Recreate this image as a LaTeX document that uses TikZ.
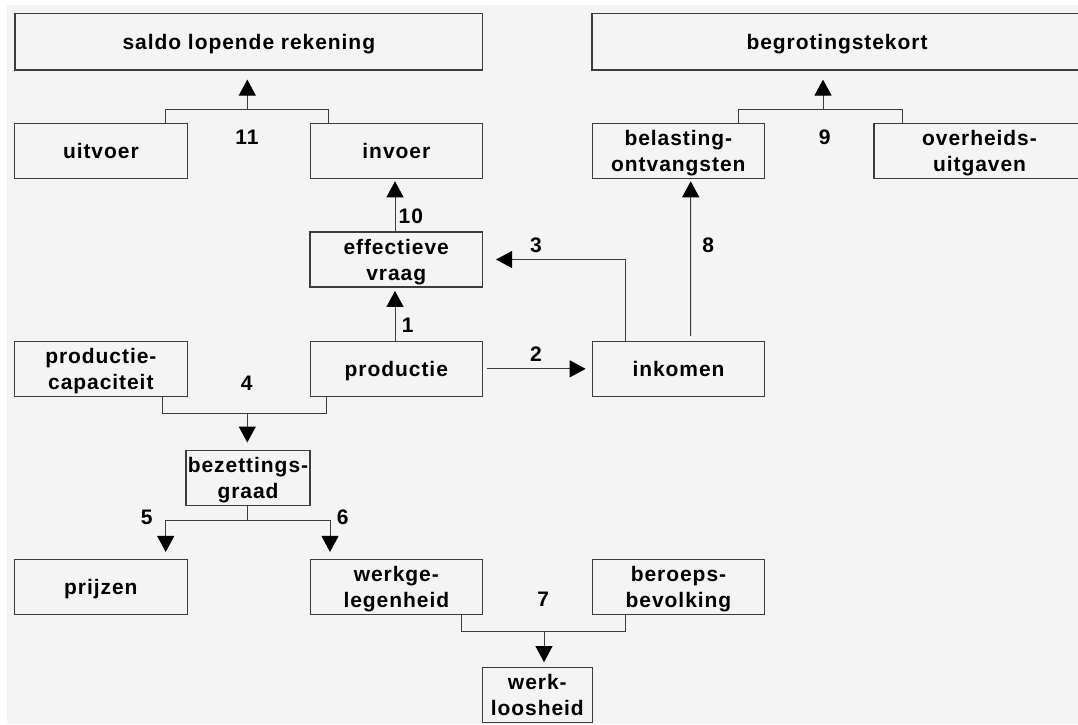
\documentclass[tikz,border=0pt]{standalone}
\usepackage{fontspec}
\usetikzlibrary{arrows.meta}
\newfontfamily\boxfamily{Liberation Sans}[LetterSpace=4.5]
\newcommand\boxfont{\boxfamily\bfseries\fontsize{21}{26}\selectfont}
\definecolor{bg}{HTML}{F4F4F4}
\definecolor{ln}{HTML}{3C3C3C}
\tikzset{
  box/.style={draw=ln, line width=1.2pt, fill=bg, minimum width=172.5pt, minimum height=55pt,
    inner sep=0pt, align=center, font=\boxfont, text depth=0pt},
  lbl/.style={font=\boxfont, inner sep=0pt},
  conn/.style={draw=ln, line width=1pt},
  arr/.style={conn, -{Triangle[width=17pt,length=16pt,color=black]}},
}
\begin{document}
\begin{tikzpicture}[x=1pt,y=-1pt]
\useasboundingbox (0,0) rectangle (1078,724);
\clip (0,0) rectangle (1078,724);
\fill[white] (0,0) rectangle (1078,724);
\fill[bg] (7,5) rectangle (1078,724);

% boxes
\node[box, minimum width=467.7pt, minimum height=56.7pt] (saldo) at (248.85,41.65) {saldo lopende rekening};
\node[box, minimum width=490pt, minimum height=56.7pt] (begr) at (837,41.65) {begrotingstekort};
\node[box] (uit) at (100.85,151.15) {uitvoer};
\node[box] (inv) at (396.35,151.15) {invoer};
\node[box] (bel) at (678.35,151.15) {belasting-\\ontvangsten};
\node[box, minimum width=211pt] (ovh) at (979.5,151.15) {overheids-\\uitgaven};
\node[box] (eff) at (396.2,259.5) {effectieve\\vraag};
\node[box] (cap) at (100.85,368.85) {productie-\\capaciteit};
\node[box] (prod) at (396.35,368.85) {productie};
\node[box] (ink) at (678.5,368.85) {inkomen};
\node[box, minimum width=124pt] (bez) at (248,478) {bezettings-\\graad};
\node[box] (prij) at (100.85,586.65) {prijzen};
\node[box] (werkg) at (396.35,586.65) {werkge-\\legenheid};
\node[box] (ber) at (678.5,586.8) {beroeps-\\bevolking};
\node[box, minimum width=110pt] (wl) at (537.3,695.2) {werk-\\loosheid};

% connector 11
\coordinate (j11) at (247.3,109.3);
\draw[conn] ([xshift=64.85pt]uit.north) |- (j11) -| ([xshift=-68.05pt]inv.north);
\draw[arr, shorten >=9pt] (j11) -- (j11 |- saldo.south);
% connector 9
\coordinate (j9) at (823,109.3);
\draw[conn] ([xshift=59.65pt]bel.north) |- (j9) -| ([xshift=-77.5pt]ovh.north);
\draw[arr, shorten >=9pt] (j9) -- (j9 |- begr.south);
% connector 10
\draw[arr, shorten >=2pt] ([xshift=-1.2pt]eff.north) -- ([xshift=-1.35pt]inv.south);
% connector 1
\draw[arr, shorten >=3.3pt] ([xshift=-1.35pt]prod.north) -- ([xshift=-1.2pt]eff.south);
% connector 2
\draw[arr, shorten <=4pt, shorten >=6pt] (prod.east) -- (ink.west);
% connector 3
\draw[arr, shorten >=13pt] ([xshift=-52.8pt]ink.north) |- (eff.east);
% connector 8
\draw[arr, shorten <=4.7pt, shorten >=2pt] ([xshift=12.2pt]ink.north) -- ([xshift=12.35pt]bel.south);
% connector 4
\coordinate (j4) at (247.3,413.3);
\draw[conn] ([xshift=61.85pt]cap.south) |- (j4) -| ([xshift=-69.65pt]prod.south);
\draw[arr, shorten >=7.4pt] (j4) -- (j4 |- bez.north);
% connectors 5 and 6
\coordinate (j56) at (247.3,520.7);
\draw[conn] (bez.south -| j56) -- (j56);
\draw[arr, shorten >=6.6pt] (j56) -| ([xshift=64.85pt]prij.north);
\draw[arr, shorten >=6.6pt] (j56) -| ([xshift=-66.35pt]werkg.north);
% connector 7
\coordinate (j7) at (544,631.7);
\draw[conn] ([xshift=65.35pt]werkg.south) |- (j7) -| ([xshift=-52.8pt]ber.south);
\draw[arr, shorten >=5pt] (j7) -- (j7 |- wl.north);

% labels
\node[lbl] (l11) at (247,137) {11};
\node[lbl] (l10) at (410.8,216) {10};
\node[lbl] (l9) at (824.7,137) {9};
\node[lbl] (l8) at (708.3,245) {8};
\node[lbl] (l3) at (536,245) {3};
\node[lbl] (l1) at (407.7,325) {1};
\node[lbl] (l2) at (536,354) {2};
\node[lbl] (l4) at (246.7,383.3) {4};
\node[lbl] (l5) at (146.7,517.3) {5};
\node[lbl] (l6) at (342.7,517.3) {6};
\node[lbl] (l7) at (543.3,599.3) {7};
\end{tikzpicture}
\end{document}
